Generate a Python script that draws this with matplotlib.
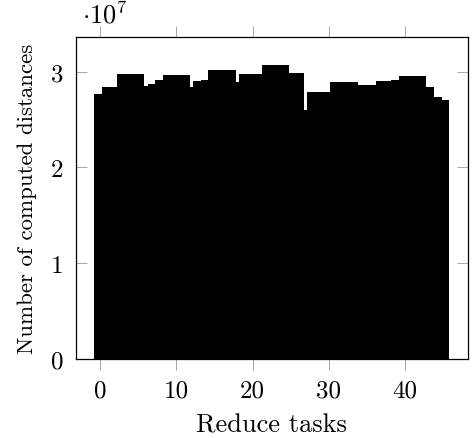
import numpy as np
import matplotlib.pyplot as plt

plt.rcParams['font.family'] = ['cmr10', 'DejaVu Serif']
plt.rcParams['mathtext.fontset'] = 'cm'
plt.rcParams['axes.unicode_minus'] = False

# Number of computed distances per reduce task (x 1e7)
tasks = np.arange(46)
distances = [2.77, 2.84, 2.84, 2.98, 2.98, 2.98, 2.85, 2.87, 2.91, 2.96,
             2.96, 2.96, 2.84, 2.905, 2.915, 3.02, 3.02, 3.02, 2.89, 2.97,
             2.97, 2.97, 3.07, 3.07, 3.07, 2.99, 2.99, 2.60, 2.79, 2.79,
             2.79, 2.89, 2.89, 2.89, 2.86, 2.86, 2.86, 2.90, 2.90, 2.91,
             2.95, 2.95, 2.95, 2.84, 2.74, 2.70]
xticks = [0, 10, 20, 30, 40]
yticks = [0, 1, 2, 3]

fig = plt.figure(figsize=(4.73, 4.39), dpi=100)
ax = fig.add_axes([0.160, 0.180, 0.829, 0.734])

# bars are wider than their spacing, later ones drawn over earlier ones
for x, v in zip(tasks, distances):
    ax.bar(x, v, width=1.6, color='black', linewidth=0)

ax.set_xlim(-3.23, 48.25)
ax.set_ylim(0, 3.364)
ax.set_xticks(xticks)
ax.set_yticks(yticks)
ax.set_xticklabels([str(t) for t in xticks])
ax.set_yticklabels([str(t) for t in yticks])

ax.tick_params(axis='x', direction='out', length=8, width=0.6, color='#999999',
               top=True, labelsize=18, pad=7)
ax.tick_params(axis='y', direction='in', length=8, width=0.6, color='#999999',
               right=True, labelsize=18, pad=9)
for s in ax.spines.values():
    s.set_linewidth(0.9)

ax.set_xlabel('Reduce tasks', fontsize=19, labelpad=8)
ax.set_ylabel('Number of computed distances', fontsize=16.5, labelpad=10)
ax.text(0.015, 1.03, r'$\cdot 10^7$', transform=ax.transAxes, fontsize=19,
        ha='left', va='bottom')

plt.savefig('out.png', dpi=100)
